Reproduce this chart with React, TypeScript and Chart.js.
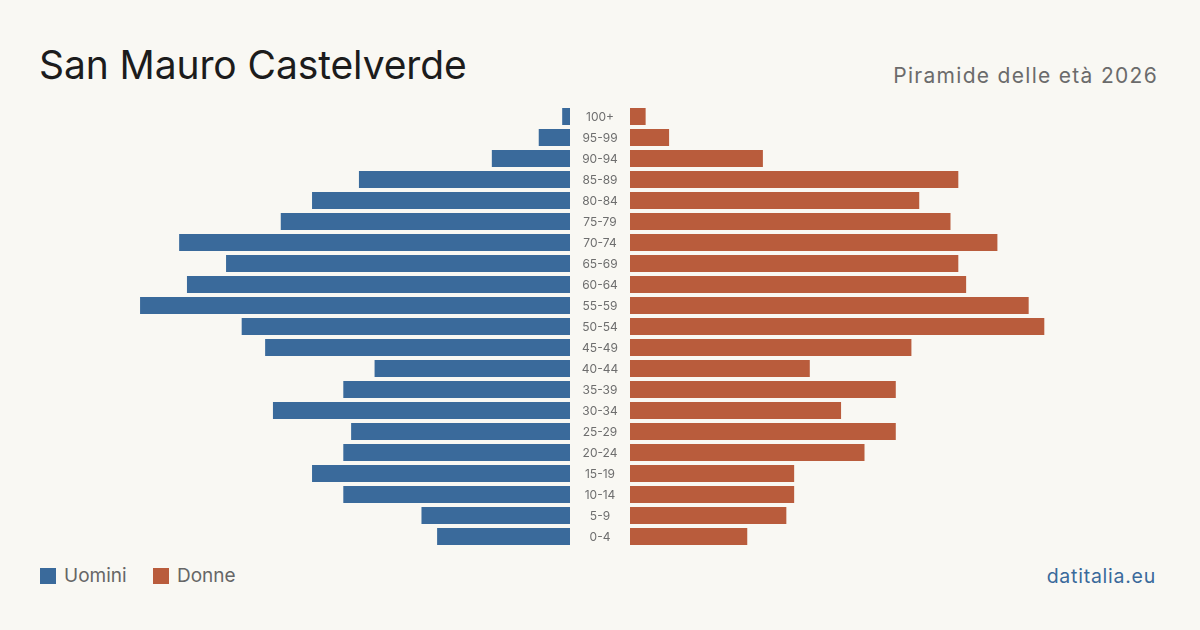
import React, { useEffect, useRef } from "react";
import { Chart, registerables } from "chart.js";

Chart.register(...registerables);

const ageGroups = ["100+", "95-99", "90-94", "85-89", "80-84", "75-79", "70-74", "65-69", "60-64", "55-59", "50-54", "45-49", "40-44", "35-39", "30-34", "25-29", "20-24", "15-19", "10-14", "5-9", "0-4"];
const men = [1, 4, 10, 27, 33, 37, 50, 44, 49, 55, 42, 39, 25, 29, 38, 28, 29, 33, 29, 19, 17];
const women = [2, 5, 17, 42, 37, 41, 47, 42, 43, 51, 53, 36, 23, 34, 27, 34, 30, 21, 21, 20, 15];

const BLUE = "#3a6a9b";
const ORANGE = "#b95c3c";
const BG = "#f9f8f3";
const FONT = "Inter, 'Liberation Sans', sans-serif";
const SCALE_MAX = 67.8;

const labelPlugin = {
  id: "centerLabels",
  afterDraw(chart: any) {
    const { ctx, chartArea } = chart;
    const y = chart.scales.y;
    ctx.save();
    ctx.font = `12px ${FONT}`;
    ctx.fillStyle = "#6e6e6e";
    ctx.textAlign = "center";
    ctx.textBaseline = "middle";
    ageGroups.forEach((lab, i) => {
      ctx.fillText(lab, chartArea.right + 30, y.getPixelForValue(i) + 0.5);
    });
    ctx.restore();
  },
};

function makeOptions(reverse: boolean, padRight: number) {
  return {
    indexAxis: "y" as const,
    animation: false as const,
    responsive: false,
    maintainAspectRatio: false,
    layout: { padding: { left: 0, right: padRight, top: 0, bottom: 0 } },
    plugins: { legend: { display: false }, tooltip: { enabled: false }, title: { display: false } },
    scales: {
      x: { display: false, min: 0, max: SCALE_MAX, reverse },
      y: { display: false, grid: { display: false } },
    },
  };
}

export default function App() {
  const leftRef = useRef<HTMLCanvasElement>(null);
  const rightRef = useRef<HTMLCanvasElement>(null);

  useEffect(() => {
    const left = new Chart(leftRef.current!, {
      type: "bar",
      data: {
        labels: ageGroups,
        datasets: [
          {
            label: "Uomini",
            data: men,
            backgroundColor: BLUE,
            categoryPercentage: 1,
            barPercentage: 17 / 21,
          },
        ],
      },
      options: makeOptions(true, 60) as any,
      plugins: [labelPlugin],
    });
    const right = new Chart(rightRef.current!, {
      type: "bar",
      data: {
        labels: ageGroups,
        datasets: [
          {
            label: "Donne",
            data: women,
            backgroundColor: ORANGE,
            categoryPercentage: 1,
            barPercentage: 17 / 21,
          },
        ],
      },
      options: makeOptions(false, 0) as any,
    });
    return () => {
      left.destroy();
      right.destroy();
    };
  }, []);

  const abs = (s: React.CSSProperties): React.CSSProperties => ({ position: "absolute", ...s });

  return (
    <div
      style={{
        position: "fixed",
        left: 0,
        top: 0,
        width: 1200,
        height: 630,
        background: BG,
        fontFamily: FONT,
        overflow: "hidden",
      }}
    >
      <div style={abs({ left: 39, top: 41, fontSize: 39, color: "#1c1c1c", lineHeight: "48px", whiteSpace: "nowrap", letterSpacing: -0.1 })}>
        San Mauro Castelverde
      </div>
      <div style={abs({ right: 42, top: 62, fontSize: 21, color: "#6b6b6b", lineHeight: "28px", whiteSpace: "nowrap", letterSpacing: 1.3 })}>
        Piramide delle età 2026
      </div>
      <canvas ref={leftRef} width={590} height={441} style={abs({ left: 40, top: 105.5, width: 590, height: 441 })} />
      <canvas ref={rightRef} width={530} height={441} style={abs({ left: 630, top: 105.5, width: 530, height: 441 })} />
      <div style={abs({ left: 40, top: 568, width: 16, height: 16, background: BLUE })} />
      <div style={abs({ left: 64, top: 563, fontSize: 19, color: "#666", lineHeight: "26px" })}>Uomini</div>
      <div style={abs({ left: 153, top: 568, width: 16, height: 16, background: ORANGE })} />
      <div style={abs({ left: 177, top: 563, fontSize: 19, color: "#666", lineHeight: "26px" })}>Donne</div>
      <div style={abs({ right: 44, top: 563, fontSize: 19.5, color: BLUE, lineHeight: "26px", letterSpacing: 0.75 })}>datitalia.eu</div>
    </div>
  );
}
